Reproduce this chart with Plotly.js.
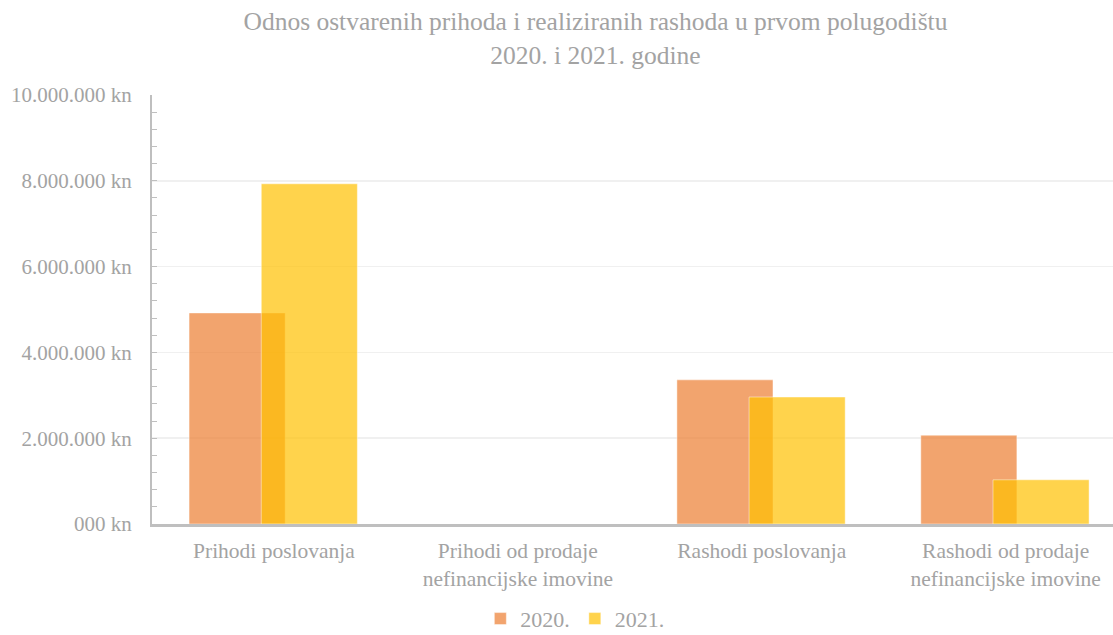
<!DOCTYPE html>
<html>
<head>
<meta charset="utf-8">
<script src="https://cdn.plot.ly/plotly-3.0.1.min.js"></script>
<style>html,body{margin:0;padding:0;background:#fff;}#chart{width:1113px;height:635px;}</style>
</head>
<body>
<div id="chart"></div>
<script>
const categories = ["Prihodi poslovanja", "Prihodi od prodaje<br>nefinancijske imovine", "Rashodi poslovanja", "Rashodi od prodaje<br>nefinancijske imovine"];
const values2020 = [4920000, 0, 3360000, 2070000];
const values2021 = [7930000, 0, 2960000, 1030000];
const yTickVals = [0, 2000000, 4000000, 6000000, 8000000, 10000000];
const yTickText = ["000 kn", "2.000.000 kn", "4.000.000 kn", "6.000.000 kn", "8.000.000 kn", "10.000.000 kn"];

const FONT = "Liberation Serif, Times New Roman, serif";
const GRAY = "#a3a3a3";

const traces = [
  {type: "bar", name: "2020.", x: categories, y: values2020,
   width: 0.394, offset: -0.348,
   marker: {color: "rgba(237,125,49,0.7)", line: {color: "rgba(255,255,255,0.45)", width: 1}},
   hoverinfo: "skip"},
  {type: "bar", name: "2021.", x: categories, y: values2021,
   width: 0.394, offset: -0.052,
   marker: {color: "rgba(255,192,0,0.7)", line: {color: "rgba(255,255,255,0.45)", width: 1}},
   hoverinfo: "skip"}
];

const layout = {
  width: 1113, height: 635,
  margin: {l: 152, r: 0, t: 95, b: 111, autoexpand: false},
  paper_bgcolor: "#fff", plot_bgcolor: "#fff",
  barmode: "overlay",
  font: {family: FONT, color: GRAY, size: 21},
  title: {text: "Odnos ostvarenih prihoda i realiziranih rashoda u prvom polugodištu<br>2020. i 2021. godine",
          x: 0.535, xanchor: "center", y: 0.952, yanchor: "top",
          font: {family: FONT, size: 25.5, color: GRAY}},
  xaxis: {range: [-0.5, 3.44], showline: true, linecolor: "#bfbfbf", linewidth: 2.5,
          ticks: "", showgrid: false, zeroline: false, ticklabelstandoff: 6,
          tickfont: {family: FONT, size: 21.5, color: GRAY}},
  yaxis: {range: [0, 10000000], tickvals: yTickVals, ticktext: yTickText,
          showline: true, linecolor: "#bfbfbf", linewidth: 2,
          ticks: "inside", ticklen: 5, tickcolor: "#bfbfbf", tickwidth: 1,
          ticklabelstandoff: 14,
          showgrid: true, gridcolor: "#f0f0f0", gridwidth: 1.5, zeroline: false,
          minor: {dtick: 400000, ticks: "inside", ticklen: 5, tickcolor: "#bfbfbf", showgrid: false},
          tickfont: {family: FONT, size: 21, color: GRAY}},
  legend: {orientation: "h", x: 0.44, xanchor: "center", y: -0.172, yanchor: "top",
           font: {family: FONT, size: 22, color: GRAY}, itemwidth: 30, traceorder: "normal"},
  showlegend: true
};

Plotly.newPlot("chart", traces, layout, {staticPlot: true, displayModeBar: false});
</script>
</body>
</html>
